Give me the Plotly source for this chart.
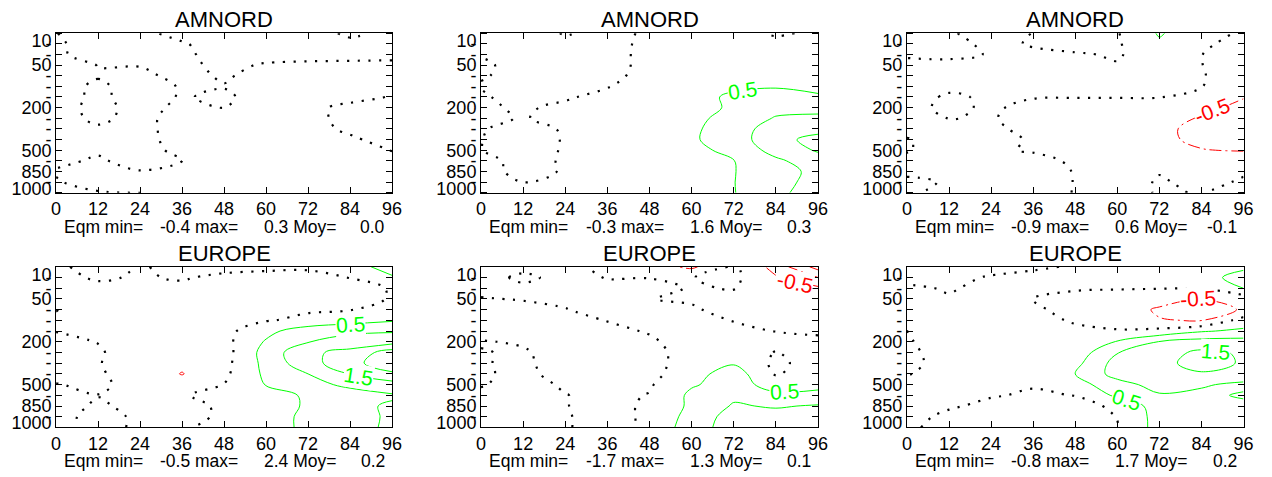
import plotly.graph_objects as go

# ---------------- data ----------------
hours = [0, 12, 24, 36, 48, 60, 72, 84, 96]
level_index = list(range(16))
pressure_hpa = [10, 20, 30, 50, 70, 100, 150, 200, 250, 300, 400, 500, 700, 850, 925, 1000]
named_levels = [10, 50, 200, 500, 850, 1000]
hour_ticks = [0, 12, 24, 36, 48, 60, 72, 84, 96]

titles = ["AMNORD", "AMNORD", "AMNORD", "EUROPE", "EUROPE", "EUROPE"]
eqm_min = [-0.4, -0.3, -0.9, -0.5, -1.7, -0.8]
eqm_max = [0.3, 1.6, 0.6, 2.4, 1.3, 1.7]
eqm_moy = [0.0, 0.3, -0.1, 0.2, 0.1, 0.2]

# rows = pressure level index (10 hPa ... 1000 hPa), columns = forecast hour 0..96
z_amnord_1 = [
    [-0.01, 0.23, 0.10, -0.14, -0.30, -0.30, -0.17, 0.07, -0.09],
    [-0.06, 0.18, 0.28, 0.04, -0.20, -0.30, -0.30, -0.10, -0.20],
    [-0.07, 0.17, 0.20, 0.08, -0.16, -0.16, -0.13, -0.12, -0.11],
    [-0.20, 0.01, 0.02, 0.10, -0.10, 0.04, 0.07, 0.08, 0.09],
    [-0.20, -0.03, -0.10, 0.13, -0.05, 0.15, 0.20, 0.20, 0.20],
    [-0.16, 0.07, -0.17, 0.03, 0.02, 0.20, 0.25, 0.15, 0.08],
    [-0.16, 0.08, -0.16, 0.03, -0.07, 0.19, 0.20, 0.15, -0.03],
    [-0.14, 0.10, -0.12, 0.08, -0.01, 0.20, 0.12, -0.12, -0.30],
    [-0.12, 0.06, -0.10, 0.14, 0.30, 0.30, 0.12, -0.12, -0.30],
    [-0.20, -0.04, -0.10, 0.14, 0.30, 0.30, 0.16, -0.08, -0.30],
    [-0.20, -0.15, -0.11, 0.13, 0.25, 0.30, 0.30, 0.07, -0.17],
    [-0.20, -0.03, -0.10, 0.07, 0.20, 0.30, 0.30, 0.20, -0.01],
    [-0.05, 0.03, -0.09, -0.01, 0.20, 0.30, 0.30, 0.25, 0.09],
    [0.02, 0.10, 0.01, 0.15, 0.20, 0.20, 0.20, 0.20, 0.20],
    [-0.02, 0.10, 0.09, 0.15, 0.15, 0.15, 0.15, 0.15, 0.15],
    [-0.10, -0.02, -0.01, 0.10, 0.10, 0.10, 0.10, 0.10, 0.10],
]

z_amnord_2 = [
    [-0.20, -0.20, 0.03, -0.10, 0.05, 0.20, 0.10, -0.04, 0.05],
    [-0.20, -0.25, -0.10, -0.10, 0.07, 0.20, 0.20, 0.10, 0.15],
    [-0.02, -0.25, -0.25, -0.10, 0.08, 0.20, 0.25, 0.25, 0.25],
    [0.05, -0.10, -0.25, -0.10, 0.08, 0.25, 0.30, 0.30, 0.30],
    [0.02, -0.07, -0.25, -0.08, 0.10, 0.30, 0.35, 0.40, 0.40],
    [-0.02, -0.20, -0.20, -0.02, 0.15, 0.30, 0.45, 0.48, 0.40],
    [0.05, -0.15, -0.06, 0.15, 0.25, 0.40, 0.55, 0.60, 0.55],
    [0.07, -0.06, 0.10, 0.30, 0.30, 0.45, 0.52, 0.80, 0.85],
    [0.10, -0.03, 0.15, 0.30, 0.35, 0.45, 0.57, 1.05, 1.10],
    [0.03, -0.15, 0.04, 0.25, 0.35, 0.45, 0.65, 1.35, 1.40],
    [0.01, -0.20, 0.03, 0.20, 0.30, 0.45, 0.70, 1.40, 1.60],
    [0.01, -0.20, 0.04, 0.20, 0.30, 0.40, 0.60, 1.20, 1.55],
    [0.10, -0.10, 0.03, 0.20, 0.30, 0.35, 0.49, 0.90, 1.30],
    [0.10, -0.08, 0.02, 0.20, 0.30, 0.35, 0.48, 0.85, 1.10],
    [0.10, -0.01, 0.10, 0.20, 0.30, 0.35, 0.49, 0.80, 1.20],
    [0.10, 0.10, 0.15, 0.20, 0.30, 0.35, 0.48, 0.90, 1.20],
]

z_amnord_3 = [
    [-0.20, -0.05, 0.20, -0.01, -0.20, -0.03, 0.55, 0.15, -0.05],
    [-0.20, -0.20, 0.15, -0.05, -0.20, -0.05, 0.42, 0.10, -0.20],
    [-0.05, -0.08, 0.02, 0.10, 0.05, -0.05, 0.30, 0.01, -0.30],
    [0.10, 0.10, 0.25, 0.30, 0.30, 0.03, 0.30, 0.01, -0.30],
    [0.20, 0.15, 0.25, 0.30, 0.30, 0.30, 0.30, 0.03, -0.25],
    [0.20, 0.08, 0.20, 0.20, 0.20, 0.20, 0.20, 0.02, -0.35],
    [0.15, -0.05, 0.05, 0.02, 0.02, 0.02, 0.02, -0.20, -0.48],
    [0.10, -0.07, 0.05, -0.10, -0.20, -0.25, -0.30, -0.40, -0.60],
    [0.20, -0.01, 0.03, -0.15, -0.25, -0.30, -0.40, -0.52, -0.80],
    [0.10, 0.20, 0.07, -0.10, -0.25, -0.30, -0.42, -0.60, -0.90],
    [-0.02, 0.15, 0.15, -0.05, -0.20, -0.30, -0.45, -0.55, -0.85],
    [-0.03, 0.20, 0.05, -0.03, -0.20, -0.30, -0.40, -0.49, -0.52],
    [0.10, 0.20, 0.20, 0.10, -0.05, -0.20, -0.20, -0.30, -0.30],
    [0.05, 0.20, 0.25, 0.10, -0.01, -0.10, -0.01, -0.10, -0.02],
    [-0.05, 0.02, 0.10, 0.15, -0.01, -0.10, 0.02, -0.05, 0.02],
    [-0.05, 0.10, 0.10, 0.10, -0.01, -0.10, 0.02, -0.01, 0.10],
]

z_europe_1 = [
    [-0.10, 0.20, -0.03, 0.10, 0.15, 0.10, 0.05, 0.30, 0.70],
    [-0.12, 0.05, -0.04, 0.04, -0.10, -0.15, -0.10, 0.01, 0.45],
    [-0.20, -0.10, -0.20, -0.10, -0.20, -0.20, -0.20, -0.15, 0.03],
    [-0.01, -0.20, -0.25, -0.20, -0.20, -0.20, -0.15, -0.10, 0.02],
    [0.01, -0.20, -0.25, -0.25, -0.20, -0.15, -0.05, -0.02, 0.20],
    [-0.05, -0.20, -0.25, -0.30, -0.20, -0.03, 0.10, 0.30, 0.45],
    [-0.01, -0.20, -0.30, -0.30, -0.15, 0.35, 0.80, 0.90, 0.95],
    [0.10, -0.01, -0.30, -0.30, -0.15, 0.55, 0.98, 1.20, 1.30],
    [0.20, 0.04, -0.20, -0.30, -0.20, 0.70, 1.40, 1.65, 2.25],
    [0.20, 0.02, -0.20, -0.40, -0.15, 0.65, 1.33, 1.80, 2.40],
    [0.15, 0.05, -0.20, -0.52, -0.10, 0.60, 1.00, 1.52, 1.90],
    [-0.02, 0.10, -0.20, -0.30, 0.01, 0.52, 0.85, 1.10, 1.30],
    [-0.10, -0.01, -0.15, -0.05, 0.20, 0.35, 0.55, 0.80, 0.95],
    [-0.15, 0.05, -0.10, -0.10, 0.05, 0.30, 0.55, 0.90, 1.05],
    [-0.10, 0.10, -0.05, -0.10, 0.05, 0.30, 0.60, 0.90, 1.04],
    [-0.10, 0.10, -0.05, -0.03, 0.10, 0.30, 0.60, 0.90, 1.05],
]

z_europe_2 = [
    [0.20, 0.15, 0.10, -0.10, -0.30, -0.60, 0.10, -0.70, -1.70],
    [0.20, -0.10, 0.15, -0.02, -0.02, -0.01, 0.10, -0.45, -1.00],
    [0.10, 0.10, 0.20, 0.10, 0.20, -0.05, 0.03, -0.30, -0.40],
    [-0.02, 0.02, 0.05, 0.10, 0.01, -0.05, -0.20, -0.30, -0.30],
    [-0.20, -0.10, -0.01, 0.10, 0.15, 0.05, -0.15, -0.30, -0.30],
    [-0.30, -0.30, -0.20, 0.02, 0.20, 0.15, -0.02, -0.20, -0.25],
    [-0.20, -0.30, -0.30, -0.15, 0.05, 0.20, 0.15, -0.01, -0.10],
    [0.03, -0.05, -0.30, -0.30, -0.10, 0.30, 0.30, 0.10, 0.15],
    [-0.02, 0.05, -0.20, -0.30, -0.15, 0.20, 0.30, -0.02, 0.20],
    [-0.03, 0.08, -0.20, -0.30, -0.15, 0.20, 0.45, -0.10, 0.20],
    [-0.05, 0.10, -0.15, -0.30, -0.15, 0.30, 0.76, -0.05, 0.30],
    [-0.03, 0.15, -0.05, -0.20, -0.05, 0.45, 0.70, 0.30, 0.40],
    [0.10, 0.15, 0.01, -0.10, 0.02, 0.60, 0.90, 0.60, 0.60],
    [0.10, 0.15, 0.01, -0.10, 0.05, 0.60, 1.05, 0.95, 1.05],
    [0.10, 0.15, 0.02, -0.10, 0.05, 0.70, 1.20, 1.20, 1.30],
    [0.10, 0.10, 0.02, -0.10, 0.05, 0.80, 1.20, 1.20, 1.25],
]

z_europe_3 = [
    [-0.30, -0.30, -0.20, -0.08, 0.05, 0.20, 0.25, 0.30, 0.45],
    [-0.20, -0.15, 0.05, 0.15, 0.20, 0.25, 0.30, 0.40, 0.60],
    [0.10, -0.05, 0.15, 0.10, 0.05, 0.03, 0.02, 0.02, 0.51],
    [0.10, 0.05, 0.15, -0.01, -0.15, -0.20, -0.35, -0.49, -0.30],
    [0.20, 0.20, 0.20, 0.10, -0.20, -0.30, -0.55, -0.75, -0.45],
    [0.20, 0.20, 0.20, 0.15, -0.05, -0.25, -0.48, -0.52, 0.20],
    [-0.01, 0.20, 0.30, 0.30, 0.10, 0.05, 0.15, 0.45, 0.60],
    [-0.02, 0.10, 0.30, 0.30, 0.30, 0.52, 1.02, 1.20, 1.20],
    [-0.05, 0.10, 0.30, 0.30, 0.20, 0.98, 1.30, 1.60, 1.45],
    [-0.10, 0.15, 0.30, 0.30, 0.35, 1.20, 1.35, 1.70, 1.45],
    [-0.02, 0.15, 0.30, 0.35, 0.50, 1.20, 1.35, 1.45, 1.30],
    [0.10, 0.10, 0.10, 0.03, 0.30, 0.80, 1.20, 1.05, 0.90],
    [0.10, 0.10, 0.03, -0.05, 0.01, 0.60, 0.95, 0.90, 1.05],
    [0.10, 0.05, -0.10, -0.20, -0.15, 0.08, 0.75, 0.80, 0.90],
    [0.15, -0.10, -0.20, -0.30, -0.20, 0.01, 0.70, 0.80, 0.80],
    [0.05, -0.10, -0.20, -0.30, -0.20, -0.02, 0.70, 0.80, 0.80],
]

fields = [z_amnord_1, z_amnord_2, z_amnord_3, z_europe_1, z_europe_2, z_europe_3]

# contour levels that carry an inline label in each panel
labelled_levels = [[], [0.5], [-0.5], [0.5, 1.5], [-0.5, 0.5], [-0.5, 1.5, 0.5]]

# ---------------- layout geometry / styling ----------------
W, H = 1272, 477
col_px = [(51.7, 391.7), (481.7, 822.7), (912.7, 1253.3)]
row_px = [(31.7, 194.0), (269.3, 432.7)]
FONT = "Liberation Sans, Arial, Helvetica, sans-serif"
GREEN = "#00ff00"
RED = "#ff0000"
DOT = "2.2px,8.5px"
DASHDOT = "12px,4px,2px,4px"
TICK_SIZE = 18
TEXT_SIZE = 17.5
TITLE_SIZE = 22
LABEL_SIZE = 21

# where each inline contour label sits on its line (hour, level index, text angle)
label_spots = [
    [],
    [(74.5, 5.35, -8)],
    [(87.0, 7.25, -21)],
    [(84.0, 5.35, -3), (86.5, 10.2, 9)],
    [(89.5, 1.45, 12), (86.5, 11.65, -3)],
    [(83.0, 3.0, -3), (88.0, 7.9, 4), (62.5, 12.4, 18)],
]

ytext = [str(p) if p in named_levels else "-" for p in pressure_hpa]
ypos = [float(i) for i in level_index]
ypos[0] += 0.75
ypos[-1] -= 0.4

fig = go.Figure()
layout = dict(
    width=W, height=H, margin=dict(l=0, r=0, t=0, b=0),
    paper_bgcolor="white", plot_bgcolor="white", showlegend=False,
    font=dict(family=FONT, size=TICK_SIZE, color="black"),
)
annotations = []

for k in range(6):
    r, c = divmod(k, 3)
    xa = "x" if k == 0 else f"x{k + 1}"
    ya = "y" if k == 0 else f"y{k + 1}"
    z = fields[k]
    common = dict(x=hours, y=level_index, z=z, xaxis=xa, yaxis=ya,
                  showscale=False, autocontour=False, hoverinfo="skip")
    # zero line: dotted black
    fig.add_trace(go.Contour(**common,
                             contours=dict(start=0, end=0, size=1, coloring="none"),
                             line=dict(color="black", width=2.2, dash=DOT)))
    # positive levels: solid green every 0.5
    fig.add_trace(go.Contour(**common,
                             contours=dict(start=0.5, end=3.0, size=0.5, coloring="none"),
                             line=dict(color=GREEN, width=1)))
    # negative levels: red dash-dot every 0.5
    fig.add_trace(go.Contour(**common,
                             contours=dict(start=-3.0, end=-0.5, size=0.5, coloring="none"),
                             line=dict(color=RED, width=1, dash=DASHDOT)))

    x0, x1 = col_px[c]
    top, bot = row_px[r]
    xkey = "xaxis" if k == 0 else f"xaxis{k + 1}"
    ykey = "yaxis" if k == 0 else f"yaxis{k + 1}"
    layout[xkey] = dict(
        domain=[x0 / W, x1 / W], anchor=ya, range=[0, 96],
        tickmode="array", tickvals=hour_ticks, ticktext=[str(h) for h in hour_ticks],
        ticks="inside", ticklen=6, tickwidth=1, tickcolor="black",
        showline=True, linecolor="black", linewidth=1, mirror="ticks",
        showgrid=False, zeroline=False,
        tickfont=dict(size=TICK_SIZE, family=FONT, color="black"),
    )
    layout[ykey] = dict(
        domain=[1 - bot / H, 1 - top / H], anchor=xa, range=[15, 0],
        tickmode="array", tickvals=ypos, ticktext=ytext,
        ticks="", ticklen=0,
        minor=dict(tickmode="array", tickvals=level_index, ticks="inside",
                   ticklen=6, tickwidth=1, tickcolor="black", showgrid=False),
        showline=True, linecolor="black", linewidth=1, mirror="ticks",
        showgrid=False, zeroline=False,
        tickfont=dict(size=TICK_SIZE, family=FONT, color="black"),
    )

    # inline contour labels (white box breaks the line under the number)
    for lev, (hx, hy, ang) in zip(labelled_levels[k], label_spots[k]):
        annotations.append(dict(text=f"{lev:.1f}", x=hx, y=hy, xref=xa, yref=ya,
                                textangle=ang, showarrow=False, bgcolor="white",
                                borderpad=0, xanchor="center", yanchor="middle",
                                font=dict(size=LABEL_SIZE, family=FONT,
                                          color=GREEN if lev > 0 else RED)))

    h = bot - top
    annotations.append(dict(text=titles[k], x=0.5, xref=f"{xa} domain",
                            y=1 + 13.4 / h, yref=f"{ya} domain",
                            xanchor="center", yanchor="middle", showarrow=False,
                            font=dict(size=TITLE_SIZE, family=FONT, color="black")))
    ytxt = -34.5 / h
    parts = [
        ("Eqm min=", 0.0185, "left"),
        (f"{eqm_min[k]:.1f} max=", 0.548, "right"),
        (f"{eqm_max[k]:.1f} Moy=", 0.839, "right"),
        (f"{eqm_moy[k]:.1f}", 0.986, "right"),
    ]
    for txt, xp, anc in parts:
        annotations.append(dict(text=txt, x=xp, xref=f"{xa} domain",
                                y=ytxt, yref=f"{ya} domain",
                                xanchor=anc, yanchor="middle", showarrow=False,
                                font=dict(size=TEXT_SIZE, family=FONT, color="black")))

layout["annotations"] = annotations
fig.update_layout(**layout)
fig.write_html("out.html", config={"displayModeBar": False, "staticPlot": True},
               post_script="document.body.style.margin='0px';document.body.style.overflow='hidden';")
